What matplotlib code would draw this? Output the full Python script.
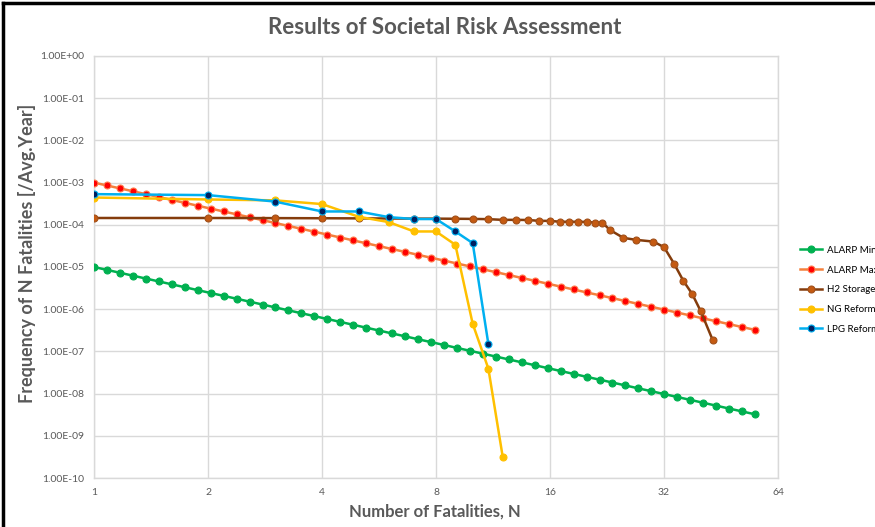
import matplotlib
matplotlib.use("Agg")
import matplotlib.pyplot as plt
from matplotlib.lines import Line2D
from matplotlib.ticker import FixedLocator, FuncFormatter, NullLocator

plt.rcParams['font.family'] = ['Lato', 'DejaVu Sans']

# ALARP criterion lines (log-spaced N)
alarp_n = [1.000, 1.082, 1.171, 1.267, 1.371, 1.483, 1.605, 1.736, 1.879, 2.033,
           2.199, 2.380, 2.575, 2.786, 3.014, 3.261, 3.529, 3.818, 4.131, 4.470,
           4.837, 5.233, 5.662, 6.127, 6.629, 7.173, 7.761, 8.397, 9.086, 9.831,
           10.64, 11.51, 12.45, 13.47, 14.58, 15.77, 17.07, 18.47, 19.98, 21.62,
           23.39, 25.31, 27.39, 29.63, 32.06, 34.69, 37.54, 40.62, 43.95, 47.55,
           51.45, 55.67]
alarp_max = [1.00e-3, 8.54e-4, 7.30e-4, 6.23e-4, 5.32e-4, 4.55e-4, 3.88e-4, 3.32e-4, 2.83e-4, 2.42e-4,
             2.07e-4, 1.77e-4, 1.51e-4, 1.29e-4, 1.10e-4, 9.40e-5, 8.03e-5, 6.86e-5, 5.86e-5, 5.00e-5,
             4.27e-5, 3.65e-5, 3.12e-5, 2.66e-5, 2.28e-5, 1.94e-5, 1.66e-5, 1.42e-5, 1.21e-5, 1.035e-5,
             8.84e-6, 7.55e-6, 6.45e-6, 5.51e-6, 4.71e-6, 4.02e-6, 3.43e-6, 2.93e-6, 2.50e-6, 2.14e-6,
             1.83e-6, 1.56e-6, 1.33e-6, 1.14e-6, 9.73e-7, 8.31e-7, 7.10e-7, 6.06e-7, 5.18e-7, 4.42e-7,
             3.78e-7, 3.23e-7]
alarp_min = [1.00e-5, 8.54e-6, 7.30e-6, 6.23e-6, 5.32e-6, 4.55e-6, 3.88e-6, 3.32e-6, 2.83e-6, 2.42e-6,
             2.07e-6, 1.77e-6, 1.51e-6, 1.29e-6, 1.10e-6, 9.40e-7, 8.03e-7, 6.86e-7, 5.86e-7, 5.00e-7,
             4.27e-7, 3.65e-7, 3.12e-7, 2.66e-7, 2.28e-7, 1.94e-7, 1.66e-7, 1.42e-7, 1.21e-7, 1.035e-7,
             8.84e-8, 7.55e-8, 6.45e-8, 5.51e-8, 4.71e-8, 4.02e-8, 3.43e-8, 2.93e-8, 2.50e-8, 2.14e-8,
             1.83e-8, 1.56e-8, 1.33e-8, 1.14e-8, 9.73e-9, 8.31e-9, 7.10e-9, 6.06e-9, 5.18e-9, 4.42e-9,
             3.78e-9, 3.23e-9]

# H2 storage
h2_n = [1, 2, 3, 4, 5, 6, 7, 8, 9, 10, 11, 12, 13, 14, 15, 16, 17, 18, 19, 20, 21, 22,
        23, 25, 27, 30, 32, 34, 36, 38, 40, 43]
h2_f = [1.45e-4, 1.45e-4, 1.44e-4, 1.43e-4, 1.42e-4, 1.41e-4, 1.40e-4, 1.40e-4, 1.39e-4, 1.38e-4,
        1.36e-4, 1.31e-4, 1.31e-4, 1.30e-4, 1.24e-4, 1.24e-4, 1.18e-4, 1.18e-4, 1.18e-4, 1.17e-4,
        1.13e-4, 1.13e-4, 7.6e-5, 4.9e-5, 4.4e-5, 4.0e-5, 2.96e-5, 1.21e-5, 4.7e-6, 2.28e-6,
        9.0e-7, 1.88e-7]

# NG reformer
ng_n = [1, 2, 3, 4, 5, 6, 7, 8, 9, 10, 11, 12]
ng_f = [4.43e-4, 3.98e-4, 3.80e-4, 3.10e-4, 1.55e-4, 1.16e-4, 6.95e-5, 6.95e-5, 3.36e-5,
        4.5e-7, 3.9e-8, 3.2e-10]

# LPG reformer
lpg_n = [1, 2, 3, 4, 5, 6, 7, 8, 9, 10, 11]
lpg_f = [5.33e-4, 5.05e-4, 3.56e-4, 2.07e-4, 2.07e-4, 1.52e-4, 1.37e-4, 1.37e-4, 6.95e-5,
         3.68e-5, 1.49e-7]

x_ticks = [1, 2, 4, 8, 16, 32, 64]
y_ticks = [1e-10, 1e-9, 1e-8, 1e-7, 1e-6, 1e-5, 1e-4, 1e-3, 1e-2, 1e-1, 1e0]

grey = '#595959'
grid = '#d9d9d9'

fig = plt.figure(figsize=(8.75, 5.27), dpi=100)
ax = fig.add_axes([94 / 875, 1 - 478 / 527, 684 / 875, 422 / 527])

series = [
    ('ALARP Min', alarp_n, alarp_min, '#00b050', '#00b050', '#00b050'),
    ('ALARP Max', alarp_n, alarp_max, '#f4803c', '#ff0000', '#ff7f50'),
    ('H2 Storage', h2_n, h2_f, '#843c0c', '#c55a11', '#a0501a'),
    ('NG Reform', ng_n, ng_f, '#ffc000', '#ffc000', '#ffc000'),
    ('LPG Reform', lpg_n, lpg_f, '#00b0f0', '#002060', '#00b0f0'),
]
handles = []
for name, xs, ys, lc, mfc, mec in series:
    ax.plot(xs, ys, color=lc, lw=1.8, marker='o', ms=5, mfc=mfc, mec=mec,
            mew=0.8, zorder=3)
    handles.append(Line2D([], [], color=lc, lw=1.8, marker='o', ms=5, mfc=mfc,
                          mec=mec, mew=0.8, label=name))

ax.set_xscale('log', base=2)
ax.set_yscale('log')
ax.set_xlim(1, 64)
ax.set_ylim(1e-10, 1)
ax.xaxis.set_major_locator(FixedLocator(x_ticks))
ax.xaxis.set_minor_locator(NullLocator())
ax.yaxis.set_major_locator(FixedLocator(y_ticks))
ax.yaxis.set_minor_locator(NullLocator())
ax.xaxis.set_major_formatter(FuncFormatter(lambda v, p: f"{int(round(v))}"))
ax.yaxis.set_major_formatter(FuncFormatter(lambda v, p: f"{v:.2E}"))
ax.tick_params(length=0, labelsize=7.5, labelcolor=grey)
ax.tick_params(axis='x', pad=7)
ax.tick_params(axis='y', pad=7)
ax.grid(True, color=grid, lw=1)
for s in ax.spines.values():
    s.set_color(grid)
    s.set_linewidth(1)
ax.set_axisbelow(True)

fig.text(445 / 875, 1 - 28 / 527, 'Results of Societal Risk Assessment',
         ha='center', va='center', fontsize=16, fontweight='bold', color=grey)
fig.text(435 / 875, 1 - 512 / 527, 'Number of Fatalities, N',
         ha='center', va='center', fontsize=12, fontweight='bold', color=grey)
fig.text(27 / 875, 1 - 253 / 527, 'Frequency of N Fatalities [/Avg.Year]',
         ha='center', va='center', rotation=90, fontsize=13, fontweight='bold',
         color=grey)

fig.legend(handles=handles, loc='upper left', bbox_to_anchor=(796 / 875, 1 - 242 / 527),
           frameon=False, fontsize=7, handlelength=2.3, handletextpad=0.5,
           labelspacing=1.1, borderaxespad=0)

# outer border on the left and top edges
fig.add_artist(Line2D([3 / 875, 3 / 875], [0, 1 - 3 / 527], color='black', lw=2.5,
                      transform=fig.transFigure))
fig.add_artist(Line2D([3 / 875, 1], [1 - 3 / 527, 1 - 3 / 527], color='black', lw=2.5,
                      transform=fig.transFigure))

fig.savefig('out.png', dpi=100)
